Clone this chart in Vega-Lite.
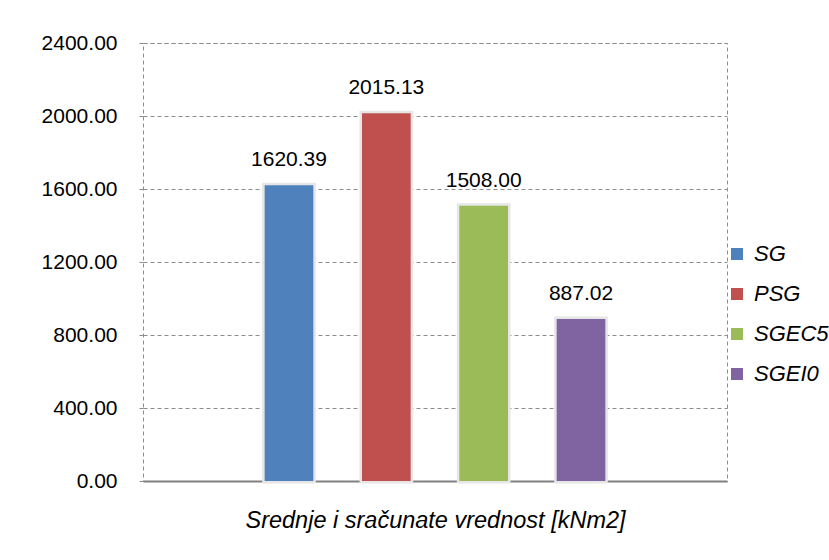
{
  "$schema": "https://vega.github.io/schema/vega-lite/v6.json",
  "width": 584,
  "height": 438,
  "autosize": {"type": "none"},
  "padding": {"left": 143, "top": 43, "right": 102, "bottom": 79},
  "background": "white",
  "data": {
    "values": [
      {"serija": "SG", "vrednost": 1620.39},
      {"serija": "PSG", "vrednost": 2015.13},
      {"serija": "SGEC5", "vrednost": 1508.00},
      {"serija": "SGEI0", "vrednost": 887.02}
    ]
  },
  "encoding": {
    "x": {
      "field": "serija",
      "type": "nominal",
      "sort": ["SG", "PSG", "SGEC5", "SGEI0"],
      "scale": {"paddingInner": 0, "paddingOuter": 1},
      "axis": {
        "title": "Srednje i sračunate vrednost [kNm2]",
        "labels": false,
        "ticks": false,
        "domainColor": "#808080",
        "domainWidth": 2,
        "titleFont": "Liberation Sans, Arial",
        "titleFontStyle": "italic",
        "titleFontWeight": "normal",
        "titleFontSize": 23.5,
        "titleColor": "#000000",
        "titlePadding": 27
      }
    },
    "y": {
      "field": "vrednost",
      "type": "quantitative",
      "scale": {"domain": [0, 2400], "nice": false},
      "axis": {
        "title": null,
        "values": [0, 400, 800, 1200, 1600, 2000, 2400],
        "format": ".2f",
        "domain": false,
        "grid": true,
        "gridColor": "#8c8c8c",
        "gridDash": [4, 3],
        "gridWidth": 1,
        "tickColor": "#8c8c8c",
        "tickSize": 6,
        "tickDash": [4, 2],
        "labelFont": "Liberation Sans, Arial",
        "labelFontSize": 21,
        "labelColor": "#000000",
        "labelPadding": 20
      }
    }
  },
  "layer": [
    {
      "mark": {"type": "bar", "width": {"band": 0.5}, "stroke": "#e6e6e6", "strokeWidth": 5, "fill": "#e6e6e6"},
      "encoding": {}
    },
    {
      "mark": {"type": "bar", "width": {"band": 0.5}},
      "encoding": {
        "color": {
          "field": "serija",
          "type": "nominal",
          "sort": ["SG", "PSG", "SGEC5", "SGEI0"],
          "scale": {
            "domain": ["SG", "PSG", "SGEC5", "SGEI0"],
            "range": ["#4f81bd", "#c0504d", "#9bbb59", "#8064a2"]
          },
          "legend": {
            "title": null,
            "orient": "none",
            "legendX": 583,
            "legendY": 200,
            "padding": 0,
            "symbolType": "square",
            "symbolSize": 144,
            "symbolStrokeWidth": 0,
            "labelFont": "Liberation Sans, Arial",
            "labelFontStyle": "italic",
            "labelFontSize": 22,
            "labelColor": "#000000",
            "labelOffset": 6,
            "labelLimit": 200,
            "rowPadding": 18
          }
        }
      }
    },
    {
      "mark": {
        "type": "text",
        "baseline": "alphabetic",
        "dy": -19,
        "font": "Liberation Sans, Arial",
        "fontSize": 21,
        "color": "#000000"
      },
      "encoding": {
        "text": {"field": "vrednost", "type": "quantitative", "format": ".2f"}
      }
    }
  ],
  "config": {
    "view": {"stroke": "#8c8c8c", "strokeDash": [4, 3], "strokeWidth": 1}
  }
}
